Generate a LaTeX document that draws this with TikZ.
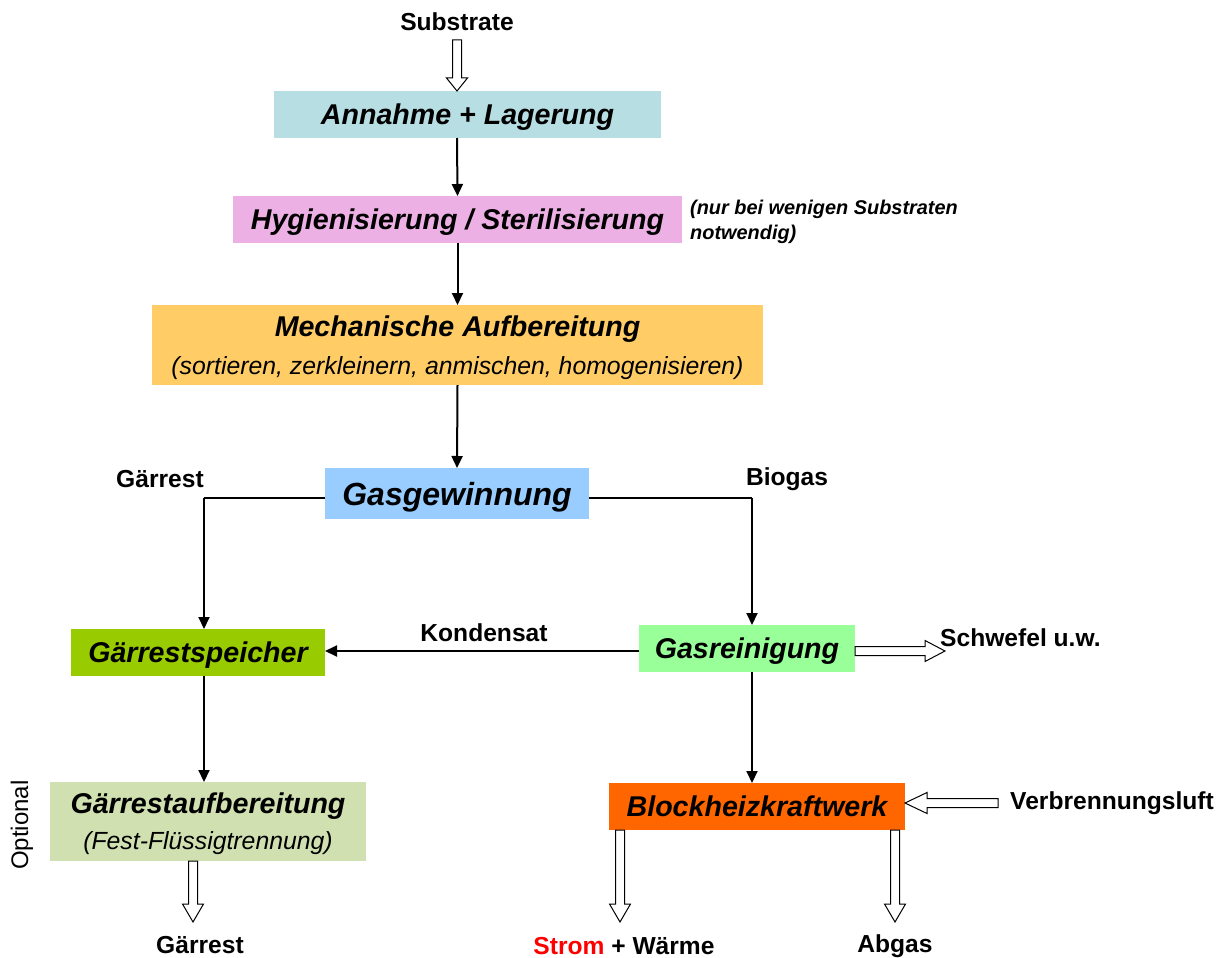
\documentclass[tikz,border=0pt]{standalone}
\usepackage{fontspec}
\setmainfont{Liberation Sans}
\usetikzlibrary{arrows.meta,calc}
\definecolor{cAnn}{RGB}{183,222,227}
\definecolor{cHyg}{RGB}{236,176,228}
\definecolor{cMech}{RGB}{255,204,102}
\definecolor{cGas}{RGB}{153,204,255}
\definecolor{cGsp}{RGB}{153,204,0}
\definecolor{cRein}{RGB}{153,255,153}
\definecolor{cBhkw}{RGB}{255,102,0}
\definecolor{cAufb}{RGB}{208,224,176}
\tikzset{
  box/.style={inner sep=0pt, outer sep=0pt, align=center, text depth=0pt, font=\fontsize{28.6}{34}\selectfont\bfseries\itshape},
  lbl/.style={inner sep=0pt, font=\fontsize{24.6}{28}\selectfont\bfseries},
  arr/.style={line width=2pt, -{Triangle[length=12pt,width=11pt]}},
  thinline/.style={line width=1.2pt},
  hollow/.style={draw=black, line width=1pt, fill=white, line join=miter}
}
\newcommand\harrow[3][15pt]{%
  \path[hollow] let \p1=(#2), \p2=(#3),
    \n1={atan2(\y2-\y1,\x2-\x1)}, \n2={veclen(\x2-\x1,\y2-\y1)} in
    [shift={(\p1)}, rotate=\n1]
    (0pt,-4.5pt) -- ({\n2-#1},-4.5pt) -- ({\n2-#1},-10.5pt) -- ({\n2+0pt},0pt)
    -- ({\n2-#1},10.5pt) -- ({\n2-#1},4.5pt) -- (0pt,4.5pt) -- cycle;}
\begin{document}
\begin{tikzpicture}[x=1pt,y=-1pt]
\path[use as bounding box] (0,0) rectangle (1229,958);
% boxes
\node[box, fill=cAnn, minimum width=387pt, minimum height=47pt] (ann) at (467.5,114.5) {Annahme + Lagerung};
\node[box, fill=cHyg, minimum width=449pt, minimum height=47pt] (hyg) at (457.5,219.5) {Hygienisierung / Sterilisierung};
\node[box, fill=cMech, minimum width=611pt, minimum height=80pt] (mech) at (457.5,345) {Mechanische Aufbereitung\\[4pt]{\fontsize{24.8}{28}\selectfont\mdseries\itshape (sortieren, zerkleinern, anmischen, homogenisieren)}};
\node[box, fill=cGas, minimum width=264pt, minimum height=51pt, font=\fontsize{32}{36}\selectfont\bfseries\itshape] (gas) at (457,493.5) {Gasgewinnung};
\node[box, fill=cGsp, minimum width=254pt, minimum height=47pt] (gsp) at (198,652.5) {Gärrestspeicher};
\node[box, fill=cRein, minimum width=216pt, minimum height=47pt] (rein) at (747,648.5) {Gasreinigung};
\node[box, fill=cBhkw, minimum width=296pt, minimum height=47pt] (bhkw) at (757,806.5) {Blockheizkraftwerk};
\node[box, fill=cAufb, minimum width=316pt, minimum height=79pt] (aufb) at (208,821.5) {Gärrestaufbereitung\\[2pt]{\fontsize{24.8}{28}\selectfont\mdseries\itshape (Fest-Flüssigtrennung)}};
% labels
\node[lbl] (subs) at (457,22) {Substrate};
\node[inner sep=0pt, align=left, anchor=west, font=\fontsize{19.9}{25}\selectfont\bfseries\itshape] (note) at (690,221.5) {(nur bei wenigen Substraten\\notwendig)};
\node[lbl] (lgr) at (160,479) {Gärrest};
\node[lbl] (lbio) at (787,479) {Biogas};
\node[lbl] (lkond) at (484,633) {Kondensat};
\node[lbl, anchor=west] (lschw) at (940,638) {Schwefel u.w.};
\node[lbl, anchor=west] (lverb) at (1010,803) {Verbrennungsluft};
\node[lbl] (lstrom) at (624,946) {\textcolor{red}{Strom} + Wärme};
\node[lbl] (labg) at (895,946) {Abgas};
\node[lbl] (lgr2) at (200,945) {Gärrest};
\node[inner sep=0pt, rotate=90, font=\fontsize{24}{28}\selectfont] (opt) at (22,825) {Optional};
% main arrows
\coordinate (cx) at (457,0);
\draw[arr] (cx |- ann.south) -- (hyg.north);
\draw[arr] (hyg.south) -- (mech.north);
\draw[arr] (mech.south) -- (gas.north);
\coordinate (gl) at (204,498);
\coordinate (gr) at (752,498);
\draw[thinline] (gas.west |- gl) -- (gl);
\draw[arr] (gl) -- (gl |- gsp.north);
\draw[thinline] (gas.east |- gr) -- (gr);
\draw[arr] (gr) -- (gr |- rein.north);
\coordinate (ky) at (0,651);
\draw[arr] (rein.west |- ky) -- (gsp.east |- ky);
\draw[arr] (gr |- rein.south) -- (gr |- bhkw.north);
\draw[arr] (gl |- gsp.south) -- (gl |- aufb.north);
% hollow arrows
\coordinate (s0) at (457,40);
\harrow[13pt]{s0}{s0 |- ann.north};
\coordinate (sw) at (945,651);
\harrow[20pt]{rein.east |- sw}{sw};
\coordinate (vl) at (998,803);
\harrow[22pt]{vl}{bhkw.east |- vl};
\coordinate (st) at (620,922);
\harrow[18pt]{st |- bhkw.south}{st};
\coordinate (ab) at (895,922);
\harrow[18pt]{ab |- bhkw.south}{ab};
\coordinate (gg) at (193,922);
\harrow[18pt]{gg |- aufb.south}{gg};
\end{tikzpicture}
\end{document}
